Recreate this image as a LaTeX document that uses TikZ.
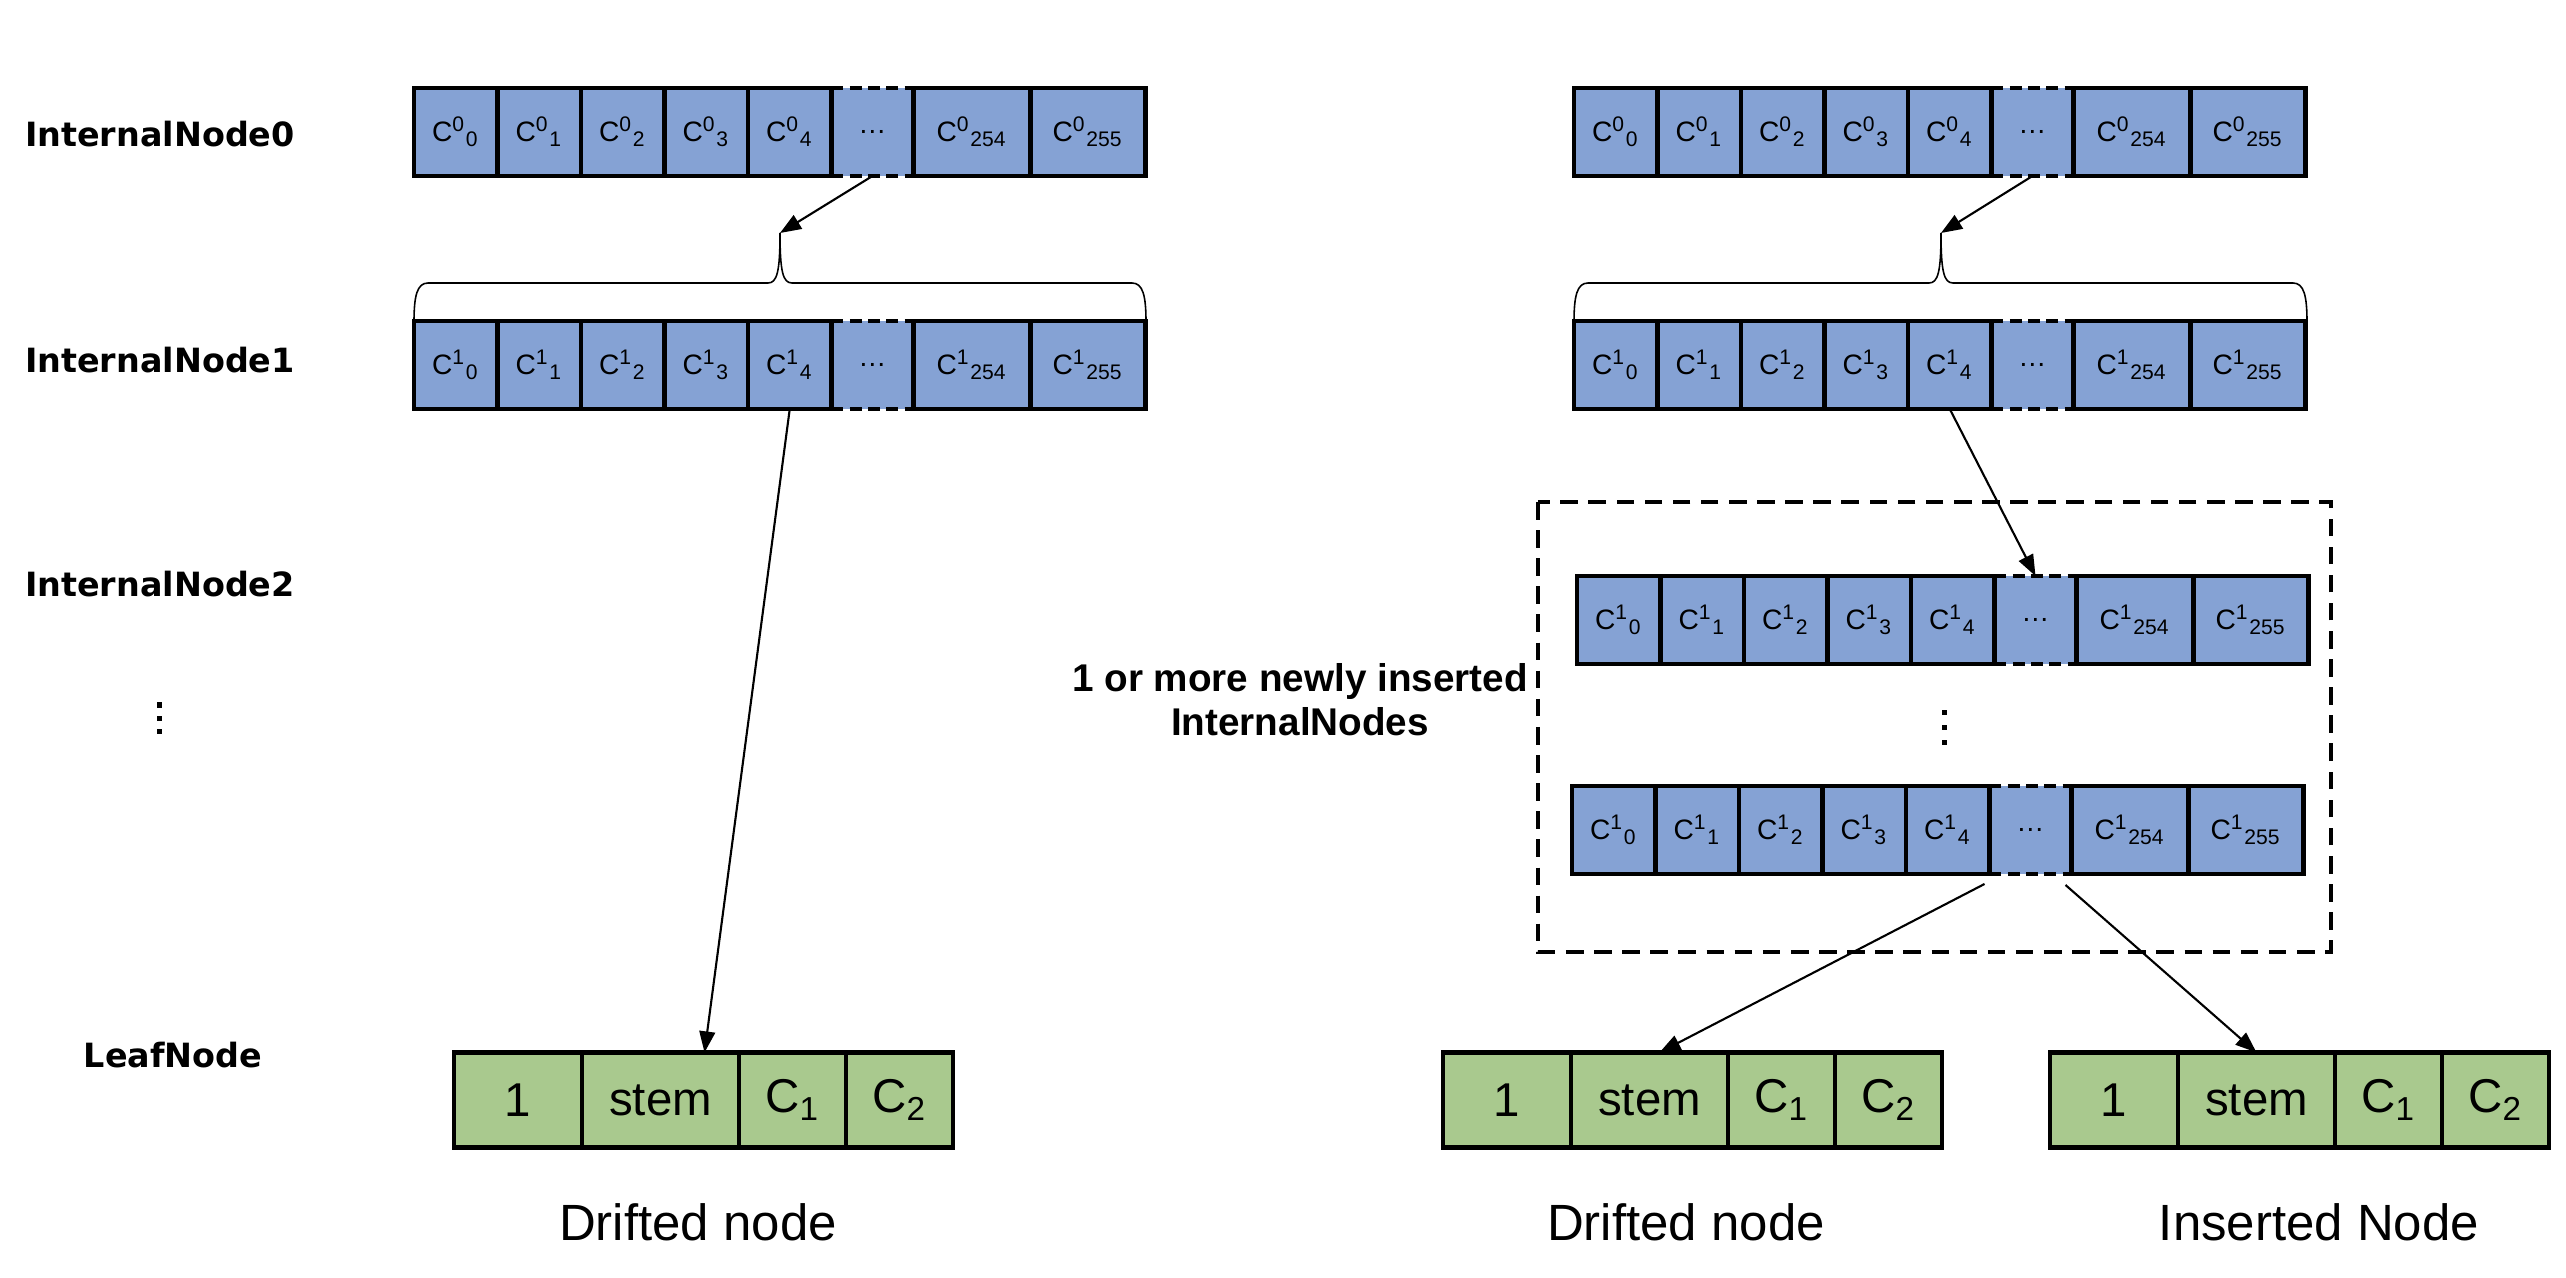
\documentclass[tikz,border=0pt]{standalone}
\usepackage{fontspec}
\setmainfont{Liberation Sans}
\newfontfamily\rowfont{DejaVu Sans}
\usepackage{tikz}
\usetikzlibrary{arrows.meta, calc}

\definecolor{cellblue}{RGB}{133,162,212}
\definecolor{leafgreen}{RGB}{169,201,142}

\tikzset{
  cell/.style={draw, line width=1.2pt, fill=cellblue, minimum height=8.8mm, inner sep=0pt, outer sep=0pt, font=\fontsize{8}{9.6}\selectfont},
  dotcell/.style={fill=cellblue, minimum width=8.2mm, minimum height=8.8mm, inner sep=0pt, outer sep=0pt, font=\fontsize{8}{9.6}\selectfont},
  celldash/.style={line width=1.2pt, dash pattern=on 3.4pt off 1.8pt},
  leaf/.style={draw, line width=1.2pt, fill=leafgreen, minimum height=9.5mm, inner sep=0pt, outer sep=0pt, font=\fontsize{13.5}{16}\selectfont},
  rowlabel/.style={font=\rowfont\bfseries\fontsize{9.5}{11}\selectfont},
  caption/.style={font=\fontsize{14.5}{17}\selectfont},
  arr/.style={line width=0.6pt, -{Triangle[length=6pt,width=4.5pt]}},
}

\begin{document}
\begin{tikzpicture}[x=0.1mm, y=-0.1mm]
    \useasboundingbox (0,0) rectangle (2566,1278);

    %row labels
    \node[rowlabel] (lab0) at (160,134) {InternalNode0};
    \node[rowlabel] (lab1) at (160,360) {InternalNode1};
    \node[rowlabel] (lab2) at (160,584) {InternalNode2};
    \node[rowlabel] (labL) at (173,1055) {LeafNode};
    \foreach \v in {705,718,731}
        \fill (157,\v-2.5) rectangle ++(5,5);

    %internal node rows
    \foreach \r/\x/\y/\s in {L0/414/132/0, L1/414/365/1, R0/1574/132/0, R1/1574/365/1, R2/1577/620/1, R3/1572/830/1}{
        \node[dotcell, anchor=west] (\r c5) at (\x+417.5,\y) {\ldots};
        \foreach \k/\dx/\w/\t in {0/0/8.35mm/0, 1/83.5/8.35mm/1, 2/167/8.35mm/2, 3/250.5/8.35mm/3, 4/334/8.35mm/4, 6/499.5/11.7mm/254, 7/616.5/11.5mm/255}
            \node[cell, minimum width=\w, anchor=west] (\r c\k) at (\x+\dx,\y) {C\textsuperscript{\s}\textsubscript{\t}};
        \draw[celldash] (\r c5.north west) -- (\r c5.north east) (\r c5.south west) -- (\r c5.south east);
    }

    %braces
    \coordinate (braceL) at (780,233);
    \coordinate (braceR) at (1941,233);
    \draw[line width=0.45pt] (414,322) .. controls (414,296) and (417,283) .. (428,283) -- (768,283) .. controls (777,283) and (780,272) .. (780,233) .. controls (780,272) and (783,283) .. (792,283) -- (1132,283) .. controls (1143,283) and (1146,296) .. (1146,322);
    \draw[line width=0.45pt] (1574,322) .. controls (1574,296) and (1577,283) .. (1588,283) -- (1929,283) .. controls (1938,283) and (1941,272) .. (1941,233) .. controls (1941,272) and (1944,283) .. (1953,283) -- (2293,283) .. controls (2304,283) and (2307,296) .. (2307,322);

    %newly inserted internal nodes
    \draw[line width=1.2pt, dash pattern=on 5pt off 3pt] (1538,502) rectangle (2331,952);
    \node[align=center, font=\bfseries\fontsize{11}{12.5}\selectfont] (newlbl) at (1300,700) {1 or more newly inserted\\InternalNodes};
    \foreach \v in {712,727,742}
        \fill (1941.5,\v-2.5) rectangle ++(5,5);

    %leaf nodes
    \foreach \lf/\x in {LL/454, LM/1443, LR/2050}{
        \node[leaf, minimum width=12.8mm, anchor=west] (\lf c0) at (\x,1100) {1};
        \node[leaf, minimum width=15.7mm, anchor=west] (\lf c1) at (\x+128,1100) {stem};
        \node[leaf, minimum width=10.7mm, anchor=west] (\lf c2) at (\x+285,1100) {C\textsubscript{1}};
        \node[leaf, minimum width=10.7mm, anchor=west] (\lf c3) at (\x+392,1100) {C\textsubscript{2}};
    }
    \node[caption] (capL) at (698,1222) {Drifted node};
    \node[caption] (capM) at (1686,1222) {Drifted node};
    \node[caption] (capR) at (2319,1222) {Inserted Node};

    %pointers
    \draw[arr] (L0c5.south) -- (braceL);
    \draw[arr] (R0c5.south) -- (braceR);
    \draw[arr] (L1c4.south) -- ($(LLc1.north)+(44,0)$);
    \draw[arr] (R1c4.south) -- (R2c5.north);
    \draw[arr] ($(R3c4.south east)+(-5,10)$) -- ($(LMc1.north)+(10,0)$);
    \draw[arr] ($(R3c5.south east)+(-6,11)$) -- (LRc1.north);
\end{tikzpicture}
\end{document}
